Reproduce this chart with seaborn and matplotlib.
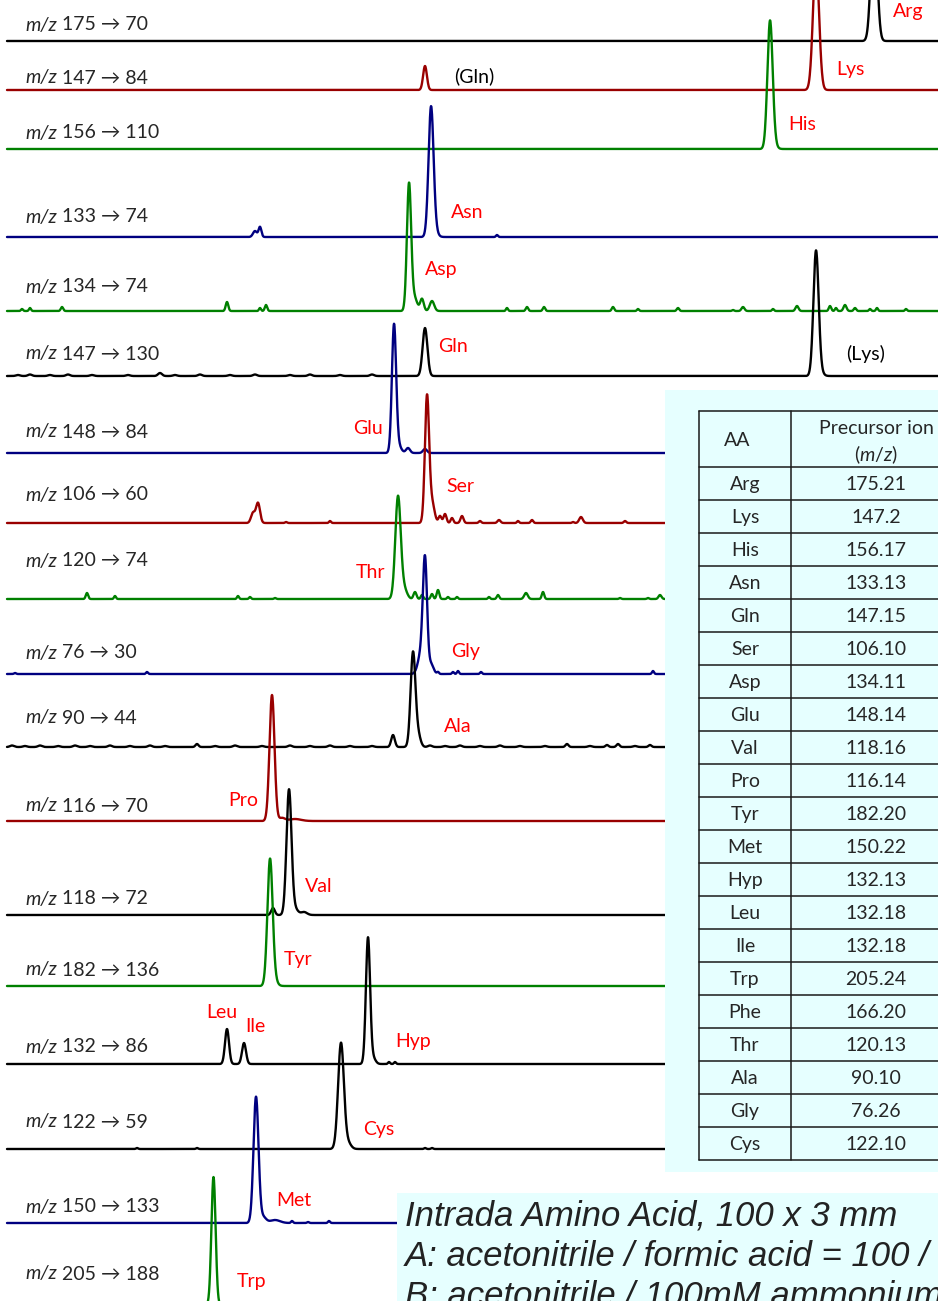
import numpy as np
import pandas as pd
import matplotlib
matplotlib.use('Agg')
import matplotlib.pyplot as plt
import seaborn as sns
from matplotlib.patches import Rectangle

sns.set_style('white')
FAM = ['Lato', 'DejaVu Sans']
plt.rcParams['font.family'] = FAM
plt.rcParams['mathtext.fontset'] = 'custom'
plt.rcParams['mathtext.rm'] = 'Lato'
plt.rcParams['mathtext.it'] = 'Lato:italic'

# MRM transitions, top to bottom (precursor -> product)
precursor = [175, 147, 156, 133, 134, 147, 148, 106, 120, 76, 90, 116, 118, 182, 132, 122, 150, 205]
product = [70, 84, 110, 74, 74, 130, 84, 60, 74, 30, 44, 70, 72, 136, 86, 59, 133, 188]
baseline = [41, 90, 149, 237, 311, 376, 453, 523, 599, 674, 747, 821, 915, 986, 1064, 1149, 1223, 1305]
label_y = [25, 78, 133, 217, 287, 354, 432, 495, 561, 653, 718, 806, 899, 970, 1047, 1122, 1207, 1274]
trace_color = ['k', 'dr', 'g', 'b', 'g', 'k', 'b', 'dr', 'g', 'b', 'k', 'dr', 'k', 'g', 'k', 'k', 'b', 'g']

# peaks per trace: (retention position, height, width)
peaks = [
    [(874, 130, 3.0)],
    [(425, 24, 1.9), (816, 130, 3.0)],
    [(770, 125, 2.6), (773, 6, 3)],
    [(255, 6, 2.0), (260, 10, 1.4), (431, 126, 2.5), (434, 8, 3), (497, 2, 1)],
    [(22, 2, 1), (30, 3, 1), (62, 4, 1.2), (227, 9, 1.3), (260, 3, 1), (266, 6, 1.2),
     (409, 125, 2.1), (414, 14, 3), (422, 12, 1.8), (432, 10, 2.2),
     (507, 3, 1), (527, 4, 1.2), (544, 4, 1.2), (613, 4, 1.2), (638, 2, 1), (678, 3, 1.2),
     (733, 1, 1), (743, 4, 1.5), (773, 2, 1), (797, 5, 1.5), (830, 5, 1.2), (836, 3, 1),
     (845, 6, 1.5), (855, 3, 1.2), (870, 2, 1), (877, 3, 1), (906, 2, 1)],
    [(18, 1, 2), (30, 1.5, 2), (50, 1, 2), (68, 1.5, 2), (92, 1, 2), (128, 1, 2), (160, 3, 2),
     (175, 1, 2), (200, 1.5, 2), (230, 1, 2), (255, 1.5, 2), (290, 1, 2), (310, 1.5, 2), (340, 1, 2),
     (372, 1.5, 2), (425, 48, 2.4), (816, 124, 2.6), (820, 4, 3)],
    [(394, 126, 2.1), (398, 8, 3), (408, 5, 2), (425, 4, 2)],
    [(253, 10, 2), (258, 20, 2), (286, 1, 1), (330, 2, 1),
     (427, 126, 2.1), (432, 20, 2.5), (440, 7, 1.5), (445, 9, 1.5), (452, 5, 1.3), (462, 7, 1.5),
     (480, 2, 1.2), (499, 3, 1.5), (518, 2, 1), (532, 3, 1.2), (573, 1, 1), (581, 6, 1.8), (625, 2, 1.2)],
    [(87, 6, 1.2), (115, 3, 1), (238, 3, 1), (250, 2, 1), (275, 1, 1),
     (398, 102, 2.7), (404, 10, 3), (415, 7, 1.5), (422, 4, 1.2), (432, 5, 1.2), (438, 9, 1.3),
     (448, 2, 1), (457, 2, 1), (489, 2, 1), (498, 4, 1.2), (526, 6, 1.8), (543, 7, 1.2),
     (620, 1, 1), (648, 1, 1), (660, 4, 1.5)],
    [(15, 1, 1), (147, 2, 1), (421, 20, 3), (425, 110, 2.1), (431, 10, 2.5), (438, 2, 1),
     (453, 2, 1), (458, 3, 1), (481, 2, 1), (653, 3, 1)],
    [(12, 1.5, 2), (25, 1, 2), (40, 1.5, 2), (58, 1, 2), (75, 1.5, 2), (90, 1, 2), (110, 1.5, 2),
     (130, 1, 2), (150, 1.5, 2), (165, 1, 2), (197, 3, 1.5), (215, 1, 2), (235, 1.5, 2), (262, 1, 2),
     (290, 1.5, 2), (310, 1, 2), (330, 1.5, 2), (350, 1, 2), (372, 1, 2), (393, 12, 1.8),
     (413, 94, 2.4), (418, 12, 2.5), (430, 1.5, 2), (445, 1, 2), (460, 1.5, 2), (480, 1, 2),
     (500, 1.5, 2), (520, 1, 2), (545, 1, 2), (567, 3, 1.5), (590, 1, 2), (607, 2, 1.5),
     (618, 3, 1.5), (635, 1, 2), (650, 2, 1.5)],
    [(272, 126, 2.5), (282, 3, 3), (295, 2, 6)],
    [(273, 7, 1.8), (289, 125, 2.5), (295, 6, 3), (304, 3, 3)],
    [(270, 125, 2.6), (274, 6, 3)],
    [(227, 35, 2.0), (244, 21, 2.0), (368, 126, 2.1), (373, 6, 2.5), (389, 2, 1), (395, 2, 1)],
    [(137, 1, 1), (197, 1, 1), (341, 106, 2.9), (348, 6, 3), (425, 1, 1), (432, 1, 1)],
    [(256, 126, 2.5), (263, 6, 3), (275, 3, 5), (292, 2, 1), (308, 1, 1), (329, 2, 1)],
    [(213.5, 128, 2.1)],
]

# peak labels
peak_names = ['Arg', 'Lys', '(Gln)', 'His', 'Asn', 'Asp', 'Gln', '(Lys)', 'Glu', 'Ser', 'Thr',
              'Gly', 'Ala', 'Pro', 'Val', 'Tyr', 'Leu', 'Ile', 'Hyp', 'Cys', 'Met', 'Trp']
peak_label_x = [908, 850, 474, 802, 467, 441, 453, 866, 368, 460, 371,
                466, 458, 243, 319, 298, 222, 255, 413, 379, 294, 252]
peak_label_y = [11, 70, 76, 125, 212, 270, 347, 354, 428, 487, 573,
                651, 727, 800, 886, 960, 1013, 1027, 1041, 1130, 1200, 1281]
peak_label_red = [True, True, False, True, True, True, True, False, True, True, True,
                  True, True, True, True, True, True, True, True, True, True, True]

# table of precursor ions
aa_names = ['Arg', 'Lys', 'His', 'Asn', 'Gln', 'Ser', 'Asp', 'Glu', 'Val', 'Pro', 'Tyr',
            'Met', 'Hyp', 'Leu', 'Ile', 'Trp', 'Phe', 'Thr', 'Ala', 'Gly', 'Cys']
aa_mz = ['175.21', '147.2', '156.17', '133.13', '147.15', '106.10', '134.11', '148.14', '118.16',
         '116.14', '182.20', '150.22', '132.13', '132.18', '132.18', '205.24', '166.20', '120.13',
         '90.10', '76.26', '122.10']

conditions = ['Intrada Amino Acid, 100 x 3 mm',
              'A: acetonitrile / formic acid = 100 / 0.3',
              'B: acetonitrile / 100mM ammonium formate = 20 / 80']

palette = {'k': '#000000', 'dr': '#990000', 'g': '#008000', 'b': '#000080'}
RED = '#FF0000'
CYAN = '#E6FFFF'
FS = 14

fig = plt.figure(figsize=(9.38, 13.01), dpi=100)
ax = fig.add_axes([0, 0, 1, 1])

x = np.arange(7, 940, 0.25)
for i in range(len(precursor)):
    y = np.full_like(x, float(baseline[i]))
    for c, h, s in peaks[i]:
        y -= h * np.exp(-0.5 * ((x - c) / s) ** 2)
    df = pd.DataFrame({'rt': x, 'signal': y})
    sns.lineplot(data=df, x='rt', y='signal', ax=ax, color=palette[trace_color[i]],
                 lw=1.7, estimator=None, sort=False, zorder=2)

    t1 = ax.text(25, label_y[i], 'm/z', style='italic', fontsize=FS, va='center', ha='left')
    ax.annotate(f' {precursor[i]} \u2192 {product[i]}', xy=(1, 0), xycoords=t1,
                va='bottom', ha='left', fontsize=FS)
ax.set_xlim(0, 938)
ax.set_ylim(1301, 0)
ax.axis('off')

for name, lx, ly, red in zip(peak_names, peak_label_x, peak_label_y, peak_label_red):
    ax.text(lx, ly, name, color=RED if red else 'black', fontsize=FS, ha='center', va='center', zorder=3)

# table panel
ax.add_patch(Rectangle((665, 390), 300, 782, facecolor=CYAN, edgecolor='none', zorder=4))
col_x = [699, 791, 961]
row_top = 411
head_h = 56
row_h = 33
row_lines = [row_top, row_top + head_h] + [row_top + head_h + row_h * (k + 1) for k in range(len(aa_names))]
line_kw = dict(color='#1a1a1a', lw=1.1, zorder=5)
for ry in row_lines:
    ax.plot([col_x[0], col_x[2]], [ry, ry], **line_kw)
for cx in col_x:
    ax.plot([cx, cx], [row_lines[0], row_lines[-1]], **line_kw)
ax.text(737, row_top + head_h / 2 + 1, 'AA', fontsize=FS, ha='center', va='center', zorder=6)
ax.text(876, 428, 'Precursor ion', fontsize=FS, ha='center', va='center', zorder=6)
ax.text(876, 455, r'($\mathit{m/z}$)', fontsize=FS, ha='center', va='center', zorder=6)
for k, (nm, mz) in enumerate(zip(aa_names, aa_mz)):
    cy = row_top + head_h + row_h * k + row_h / 2 + 1
    ax.text(745, cy, nm, fontsize=FS, ha='center', va='center', zorder=6)
    ax.text(876, cy, mz, fontsize=FS, ha='center', va='center', zorder=6)

# conditions box (cut by the right edge, as in the source slide)
ax.add_patch(Rectangle((397, 1193), 560, 120, facecolor=CYAN, edgecolor='none', zorder=4))
for k, line in enumerate(conditions):
    ax.text(405, 1216 + 40 * k, line, family=['Liberation Sans', 'DejaVu Sans'], style='italic',
            fontsize=25, color='#222222', ha='left', va='center', zorder=6)

fig.savefig('out.png', dpi=100)
